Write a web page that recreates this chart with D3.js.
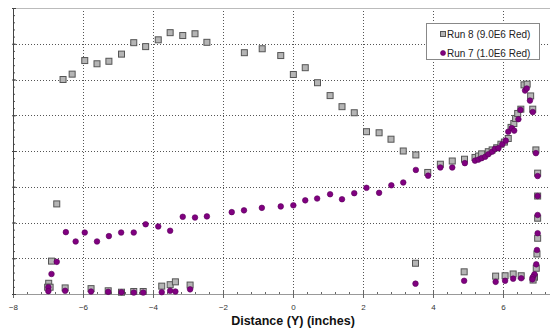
<!DOCTYPE html>
<html>
<head>
<meta charset="utf-8">
<script src="https://cdn.jsdelivr.net/npm/d3@7"></script>
<style>
  body { margin: 0; background: #fff; }
  svg { display: block; font-family: "Liberation Sans", Arial, sans-serif; }
</style>
</head>
<body>
<div class="areaGrafica"></div>
<script>
// Run 8 (9.0E6 Red) - grey squares
const run8X = [-6.57,-6.31,-5.95,-5.6,-5.26,-4.9,-4.55,-4.21,-3.85,-3.51,-3.15,-2.8,-2.46,-1.39,-0.88,-0.35,0.01,0.35,0.7,1.06,1.4,1.75,2.1,2.46,2.8,3.15,3.51,3.85,4.21,4.55,4.9,
  5.2,5.3,5.39,5.58,5.69,5.82,5.94,6.04,6.15,6.23,6.31,6.36,6.42,6.51,6.6,6.69,6.79,6.85,6.94,
  6.99,6.99,6.99,6.99,6.97,6.95,6.9,6.86,6.52,6.29,6.06,5.79,4.89,3.5,
  -6.75,-6.9,-6.98,-7.01,-6.94,-6.51,-5.77,-5.28,-4.9,-4.55,-4.28,-3.75,-3.51,-3.36,-2.94]
const run8Y = [6.0,6.15,6.53,6.44,6.51,6.71,7.03,6.92,7.11,7.31,7.23,7.28,7.04,6.75,6.86,6.67,6.14,6.33,5.91,5.55,5.24,5.07,4.54,4.51,4.33,4.0,3.89,3.4,3.63,3.72,3.77,
  3.82,3.86,3.92,3.98,4.03,4.09,4.19,4.25,4.35,4.66,4.77,4.91,5.05,5.17,5.85,5.87,5.54,5.17,4.03,
  3.38,2.74,2.12,1.56,1.12,0.72,0.47,0.39,0.51,0.56,0.51,0.5,0.62,0.86,
  2.52,0.92,0.3,0.19,0.19,0.17,0.15,0.09,0.05,0.07,0.07,0.22,0.26,0.34,0.25]

// Run 7 (1.0E6 Red) - purple circles
const run7X = [-6.9,-6.75,-6.49,-6.21,-5.95,-5.6,-5.26,-4.91,-4.55,-4.21,-3.85,-3.51,-3.15,-2.8,-2.46,-1.75,-1.4,-0.89,-0.35,0.01,0.35,0.69,1.06,1.4,1.75,2.1,2.46,2.81,3.15,3.51,3.86,4.21,4.55,4.91,
  5.2,5.3,5.39,5.49,5.58,5.69,5.77,5.87,5.98,6.08,6.15,6.25,6.32,6.44,6.5,6.63,6.68,6.77,6.85,6.94,
  6.99,6.99,6.99,6.99,6.97,6.95,6.9,6.85,6.84,6.52,6.29,6.06,5.79,4.89,3.5,
  -6.99,-6.99,-6.51,-5.77,-5.28,-4.9,-4.55,-4.28,-3.75,-3.51,-3.36,-2.94]
const run7Y = [0.56,0.9,1.73,1.47,1.72,1.47,1.62,1.72,1.72,1.95,1.89,1.77,2.16,2.14,2.17,2.29,2.34,2.41,2.45,2.48,2.62,2.67,2.79,2.65,2.82,2.97,2.83,3.04,3.12,3.47,3.31,3.54,3.54,3.66,
  3.73,3.76,3.8,3.84,3.91,3.98,4.06,4.08,4.19,4.29,4.54,4.64,4.57,4.89,5.15,5.69,5.75,5.41,5.09,3.94,
  3.3,2.74,2.21,1.7,1.23,0.83,0.55,0.47,0.41,0.44,0.43,0.37,0.34,0.37,0.29,
  0.19,0.08,0.09,0.07,0.06,0.05,0.04,0.04,0.05,0.09,0.07,0.13]

const xTicks = [-8,-6,-4,-2,0,2,4,6]
const yTicks = [0,1,2,3,4,5,6,7,8]
const leyenda = ['Run 8 (9.0E6 Red)', 'Run 7 (1.0E6 Red)']
const tituloX = 'Distance (Y) (inches)'

function grafica(){
  const w = 550
  const h = 329
  const izq = 13
  const abajo = 294
  const arriba = 8

  let svg = d3.select('.areaGrafica').append('svg')
              .attr('width', w)
              .attr('height', h)

  let xScale = d3.scaleLinear().domain([-8, 8]).range([izq, izq + 560])
  let yScale = d3.scaleLinear().domain([0, 8]).range([abajo, arriba])

  // grid
  svg.append('g').selectAll('line')
     .data(xTicks.filter(d => d > -8))
     .enter().append('line')
     .attr('x1', d => xScale(d) + 0.5).attr('x2', d => xScale(d) + 0.5)
     .attr('y1', arriba).attr('y2', abajo)
     .attr('stroke', '#555').attr('stroke-dasharray', '1,2')

  svg.append('g').selectAll('line')
     .data(yTicks.filter(d => d > 0 && d < 8))
     .enter().append('line')
     .attr('x1', izq).attr('x2', w)
     .attr('y1', d => Math.round(yScale(d)) + 0.5).attr('y2', d => Math.round(yScale(d)) + 0.5)
     .attr('stroke', '#555').attr('stroke-dasharray', '1,2')

  // top border
  svg.append('line')
     .attr('x1', izq).attr('x2', w)
     .attr('y1', arriba + 0.5).attr('y2', arriba + 0.5)
     .attr('stroke', '#bbb')

  // x axis
  let minorX = d3.range(-8, 8.01, 0.4).map(d => +d.toFixed(1))
  svg.append('g')
     .attr('transform', 'translate(0,' + abajo + ')')
     .call(d3.axisBottom(xScale).tickValues(minorX).tickSize(-2).tickFormat(''))
     .call(g => g.select('.domain').remove())
     .selectAll('line').attr('stroke', '#666')

  let xAxis = svg.append('g')
     .attr('id', 'ejeX')
     .attr('transform', 'translate(0,' + abajo + ')')
     .call(d3.axisBottom(xScale).tickValues(xTicks).tickSize(4).tickSizeOuter(0).tickPadding(6))
  xAxis.select('.domain').attr('stroke', '#999')
  xAxis.selectAll('.tick line').attr('stroke', '#666').attr('y1', -4)
  xAxis.selectAll('text').attr('font-size', '8px').attr('fill', '#333')
       .attr('font-family', '"Liberation Sans", Arial, sans-serif')

  // y axis (labels sit outside the picture)
  let minorY = d3.range(0, 8.01, 0.2).map(d => +d.toFixed(1))
  svg.append('g')
     .attr('transform', 'translate(' + izq + ',0)')
     .call(d3.axisLeft(yScale).tickValues(minorY).tickSize(-2).tickFormat(''))
     .call(g => g.select('.domain').remove())
     .selectAll('line').attr('stroke', '#555')

  let yAxis = svg.append('g')
     .attr('id', 'ejeY')
     .attr('transform', 'translate(' + izq + ',0)')
     .call(d3.axisLeft(yScale).tickValues(yTicks).tickSize(1).tickSizeOuter(0).tickFormat(''))
  yAxis.select('.domain').attr('stroke', '#444')
  yAxis.selectAll('.tick line').attr('stroke', '#444').attr('x1', 3)

  // axis title
  svg.append('text')
     .attr('x', xScale(0))
     .attr('y', 325)
     .attr('text-anchor', 'middle')
     .attr('font-size', '12.5px')
     .attr('font-weight', 'bold')
     .attr('fill', '#111')
     .text(tituloX)

  // Run 8 squares
  const lado = 6
  svg.append('g').selectAll('rect')
     .data(run8X.map((d, i) => [d, run8Y[i]]))
     .enter().append('rect')
     .attr('x', d => xScale(d[0]) - lado / 2)
     .attr('y', d => yScale(d[1]) - lado / 2)
     .attr('width', lado).attr('height', lado)
     .attr('fill', '#b5b5b5').attr('stroke', '#555').attr('stroke-width', 1)

  // Run 7 circles
  svg.append('g').selectAll('circle')
     .data(run7X.map((d, i) => [d, run7Y[i]]))
     .enter().append('circle')
     .attr('cx', d => xScale(d[0]))
     .attr('cy', d => yScale(d[1]))
     .attr('r', 2.8)
     .attr('fill', '#800080').attr('stroke', '#5a005a').attr('stroke-width', 0.6)

  // legend
  let ley = svg.append('g').attr('transform', 'translate(426,23)')
  ley.append('rect')
     .attr('x', 0.5).attr('y', 0.5).attr('width', 113).attr('height', 36)
     .attr('fill', '#fff').attr('stroke', '#888')
  ley.append('rect')
     .attr('x', 14.5).attr('y', 8.5).attr('width', 5).attr('height', 5)
     .attr('fill', '#b5b5b5').attr('stroke', '#555')
  ley.append('circle')
     .attr('cx', 17).attr('cy', 30).attr('r', 2.5)
     .attr('fill', '#800080').attr('stroke', '#5a005a').attr('stroke-width', 0.6)
  ley.selectAll('text')
     .data(leyenda)
     .enter().append('text')
     .attr('x', 21)
     .attr('y', (d, i) => 14.5 + i * 19.5)
     .attr('font-size', '10px')
     .attr('fill', '#222')
     .text(d => d)
}

grafica()
</script>
</body>
</html>
